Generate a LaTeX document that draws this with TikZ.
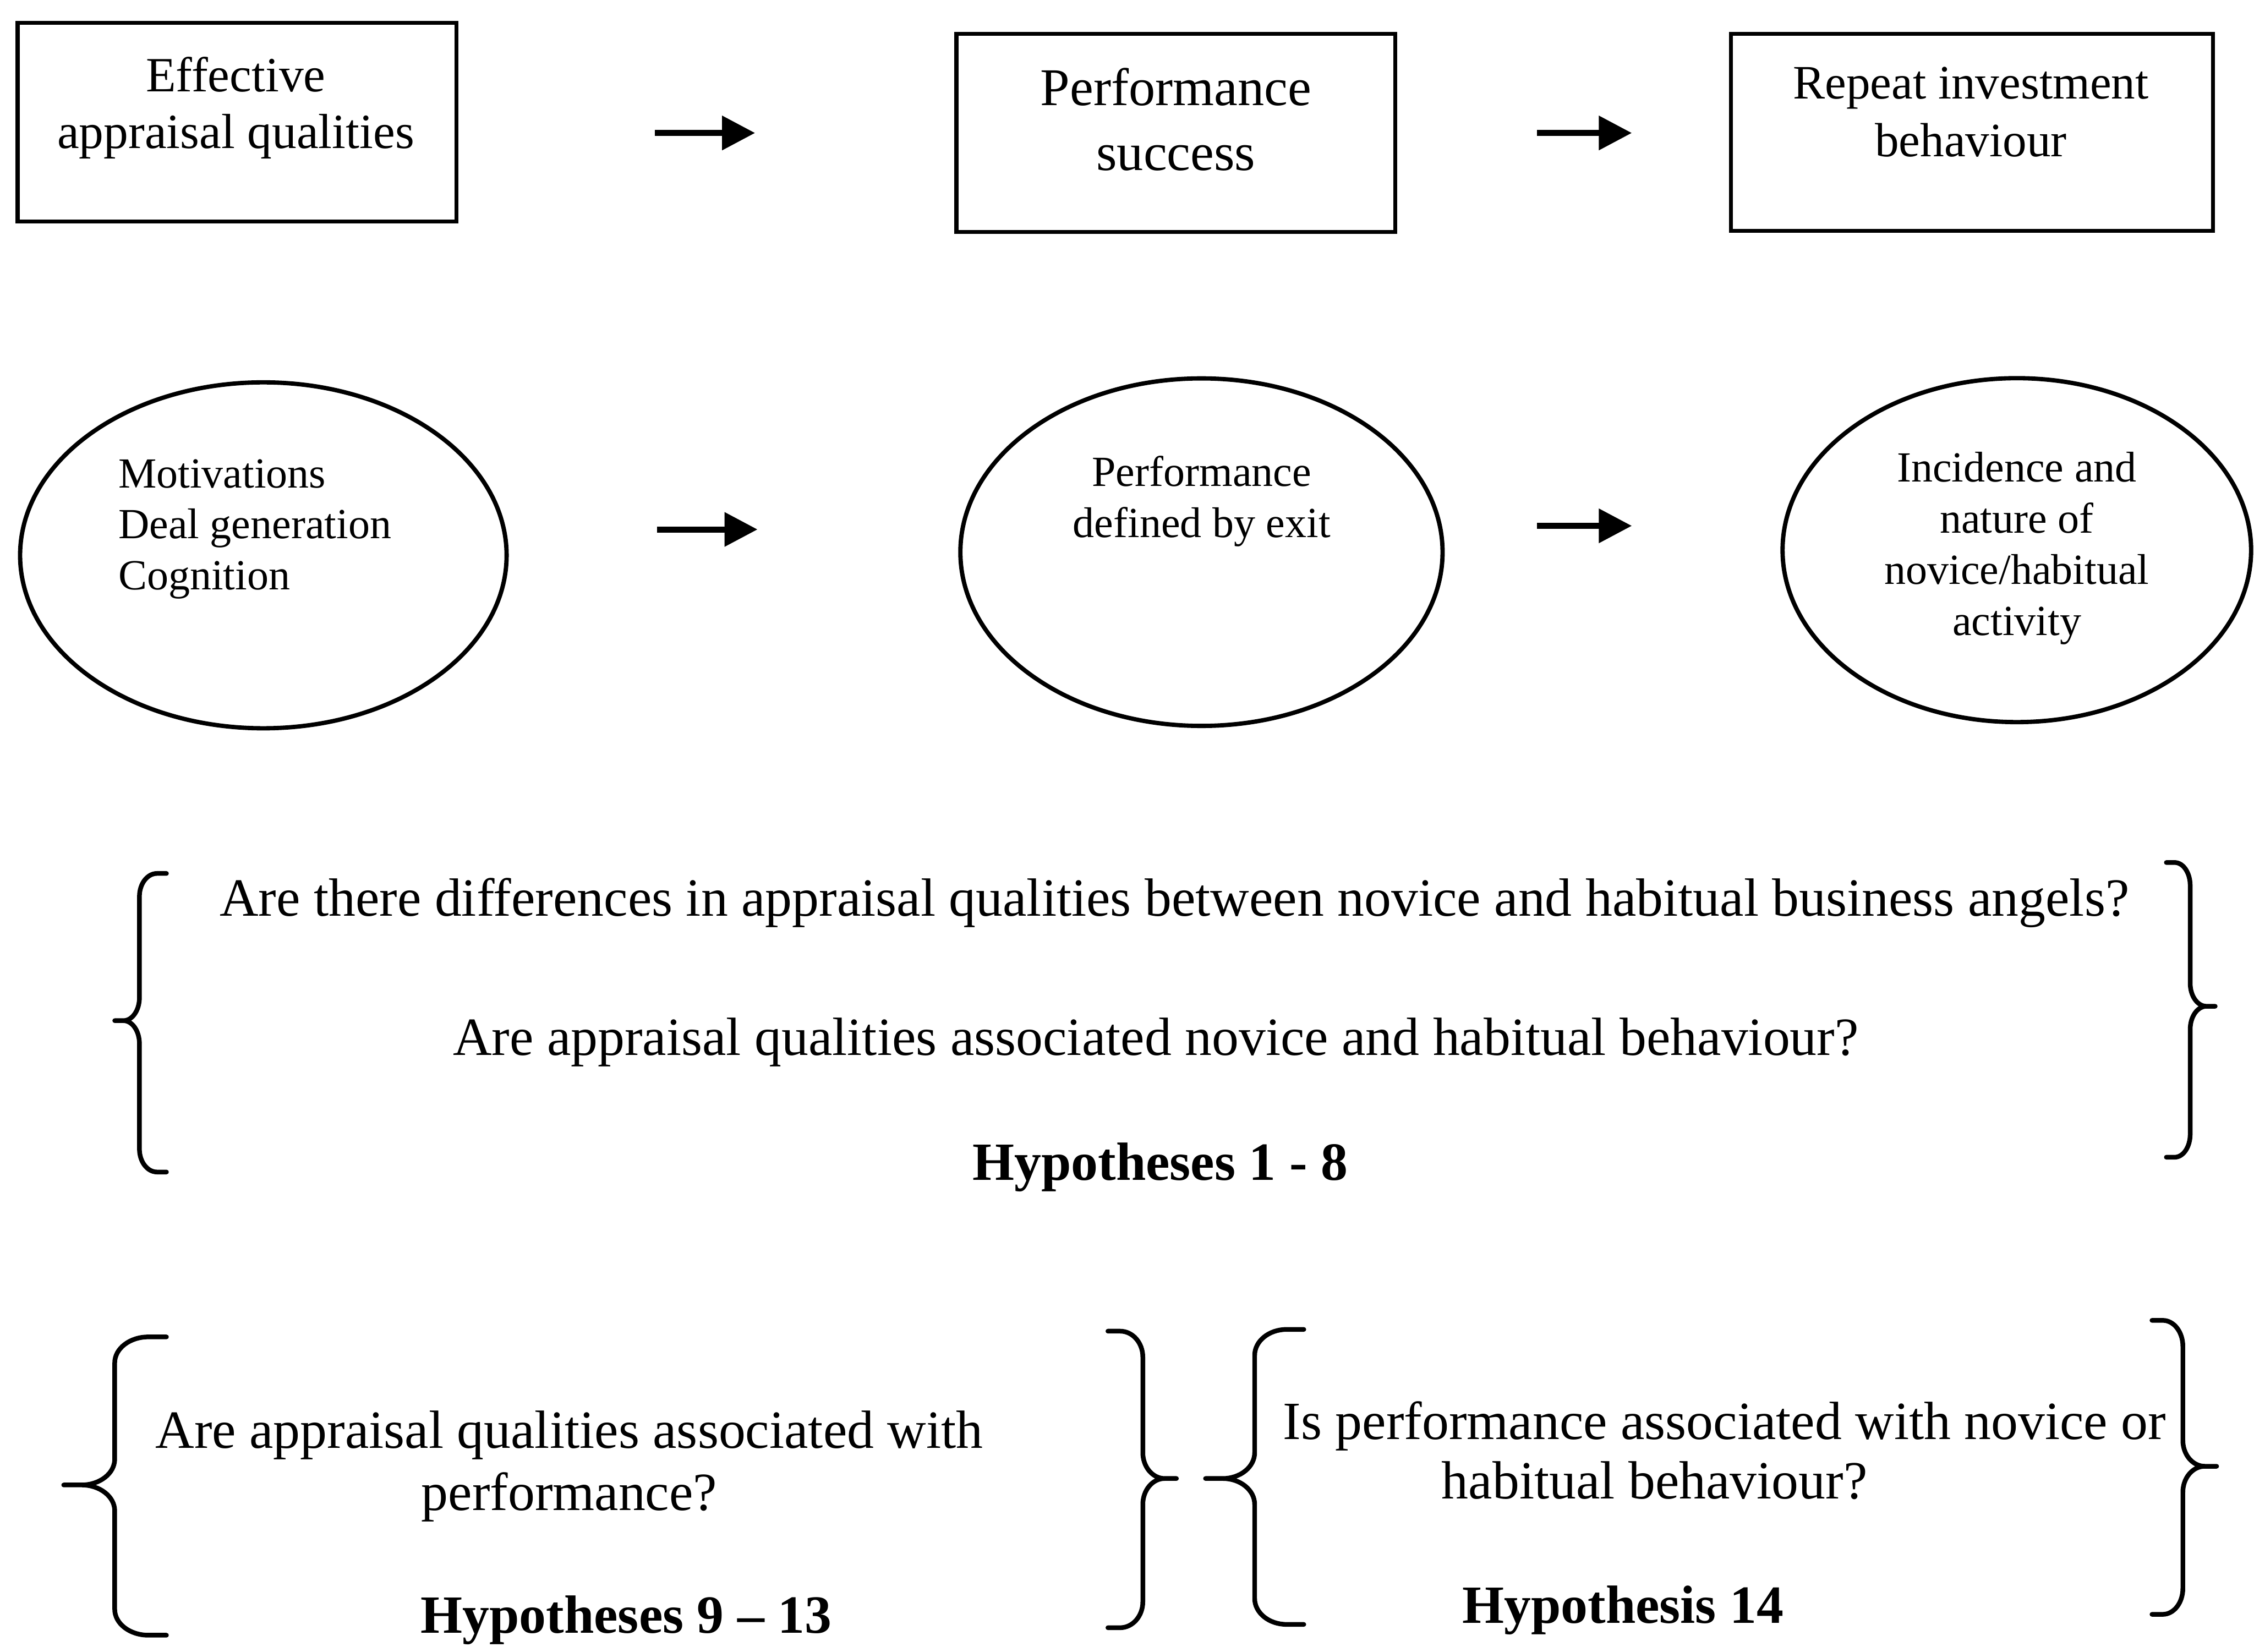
\documentclass[tikz,border=0pt]{standalone}
\usepackage{fontspec}
\setmainfont{Liberation Serif}
\usetikzlibrary{shapes.geometric,arrows.meta}

% curly brace: #1 end x, #2 spine x, #3 tip x, #4 top y, #5 tip y, #6 bottom y, #7 bend height
% each bend is a quarter ellipse covering 65% of the way from the spine towards the end or tip
\newcommand{\curlybrace}[7]{%
  \draw[bracestroke] (#1,#4) -- ({#2+0.65*(#1-#2)},#4)
    .. controls ({#2+0.29*(#1-#2)},#4) and (#2,{#4+0.45*#7}) .. (#2,{#4+#7})
    -- (#2,{#5-#7})
    .. controls (#2,{#5-0.45*#7}) and ({#2+0.29*(#3-#2)},#5) .. ({#2+0.65*(#3-#2)},#5)
    -- (#3,#5) -- ({#2+0.65*(#3-#2)},#5)
    .. controls ({#2+0.29*(#3-#2)},#5) and (#2,{#5+0.45*#7}) .. (#2,{#5+#7})
    -- (#2,{#6-#7})
    .. controls (#2,{#6-0.45*#7}) and ({#2+0.29*(#1-#2)},#6) .. ({#2+0.65*(#1-#2)},#6)
    -- (#1,#6);%
}

\begin{document}
\begin{tikzpicture}[
  x=0.02cm, y=-0.02cm,
  stage/.style={draw, rectangle, line width=0.055cm, inner sep=0pt},
  oval/.style={draw, ellipse, line width=0.06cm, inner sep=0pt},
  flow/.style={line width=0.085cm, -{Triangle[length=0.46cm, width=0.46cm]}},
  bracestroke/.style={line width=0.065cm, line cap=round, line join=round},
  boxtext/.style={align=center, inner sep=0pt},
  ovaltext/.style={inner sep=0pt, font=\fontsize{17}{20.2}\selectfont},
  question/.style={inner sep=0pt, align=center, font=\fontsize{21.3}{24.8}\selectfont},
  hyp/.style={inner sep=0pt, font=\fontsize{21.3}{24.8}\selectfont\bfseries},
]
\fill[white] (0,0) rectangle (1568,1149);
\useasboundingbox (0,0) rectangle (1568,1149);

% top row: boxes
\node[stage, minimum width=6.106cm, minimum height=2.76cm] (b1) at (164.9,85) {};
\node[stage, minimum width=6.104cm, minimum height=2.758cm] (b2) at (817.9,92.5) {};
\node[stage, minimum width=6.706cm, minimum height=2.74cm] (b3) at (1371.7,92) {};
\node[boxtext, font=\fontsize{19.5}{22.6}\selectfont] (t1) at (164,75) {Effective\\appraisal qualities};
\node[boxtext, font=\fontsize{21}{25.8}\selectfont] (t2) at (818,83) {Performance\\success};
\node[boxtext, font=\fontsize{19}{22.8}\selectfont] (t3) at (1371,78) {Repeat investment\\behaviour};

\coordinate (a1s) at (455.5,92.5);  \coordinate (a1e) at (525.3,92.5);
\coordinate (a2s) at (1069.3,92.5); \coordinate (a2e) at (1135.2,92.5);
\draw[flow] (a1s) -- (a1e);
\draw[flow] (a2s) -- (a2e);

% second row: ellipses
\node[oval, minimum width=6.77cm, minimum height=4.814cm] (e1) at (183.2,386.3) {};
\node[oval, minimum width=6.71cm, minimum height=4.836cm] (e2) at (835.8,384.1) {};
\node[oval, minimum width=6.52cm, minimum height=4.786cm] (e3) at (1403,382.7) {};
\node[ovaltext, align=left, anchor=west] (et1) at (82,368) {Motivations\\Deal generation\\Cognition};
\node[ovaltext, align=center] (et2) at (836,348.8) {Performance\\defined by exit};
\node[ovaltext, align=center] (et3) at (1403,381.4) {Incidence and\\nature of\\novice/habitual\\activity};

\coordinate (a3s) at (457,368.3);   \coordinate (a3e) at (527,368.3);
\coordinate (a4s) at (1069.3,365.8); \coordinate (a4e) at (1135.2,365.8);
\draw[flow] (a3s) -- (a3e);
\draw[flow] (a4s) -- (a4e);

% research questions, hypotheses 1-8
\node[question] (q1) at (817,628) {Are there differences in appraisal qualities between novice and habitual business angels?};
\node[question] (q2) at (804,725) {Are appraisal qualities associated novice and habitual behaviour?};
\node[hyp] (h1) at (807,812) {Hypotheses 1 - 8};
\curlybrace{115.8}{97}{79.8}{607.6}{710}{815.3}{16}
\curlybrace{1507}{1523.6}{1541}{600}{700}{805}{16}

% hypotheses 9-13
\node[question] (q3) at (396,1020) {Are appraisal qualities associated with\\performance?};
\node[hyp] (h2) at (435.6,1127) {Hypotheses 9 \textendash{} 13};
\curlybrace{115.8}{79.8}{44.3}{930}{1033}{1137.5}{18}
\curlybrace{770.7}{795}{818.4}{926}{1028.5}{1132.3}{18}

% hypothesis 14
\node[question] (q4a) at (1199.7,992) {Is performance associated with novice or};
\node[question] (q4b) at (1151,1030) {habitual behaviour?};
\node[hyp] (h3) at (1129,1120) {Hypothesis 14};
\curlybrace{907}{872.8}{838.6}{924.8}{1028.5}{1130}{18}
\curlybrace{1497}{1518.5}{1542}{918.5}{1020}{1123}{18}
\end{tikzpicture}
\end{document}
